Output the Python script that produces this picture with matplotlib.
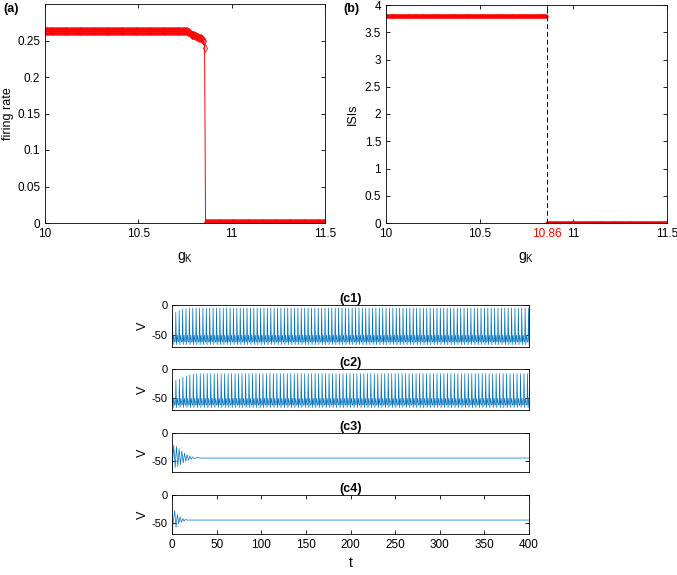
#!/usr/bin/env python3
"""
Firing rate / ISI vs g_K and sample voltage traces
"""

import numpy as np
import matplotlib.pyplot as plt
from matplotlib.ticker import FormatStrFormatter

plt.rcParams['font.family'] = ['Liberation Sans', 'DejaVu Sans']
plt.rcParams['font.size'] = 8.5
plt.rcParams['xtick.direction'] = 'in'
plt.rcParams['ytick.direction'] = 'in'
plt.rcParams['axes.linewidth'] = 0.6
plt.rcParams['xtick.major.width'] = 0.6
plt.rcParams['ytick.major.width'] = 0.6
plt.rcParams['xtick.major.size'] = 3
plt.rcParams['ytick.major.size'] = 3

# ---- data ----
gk_step = 0.005
gk_start, gk_end = 10.0, 11.5

# (a) firing rate: plateau, transition near 10.76-10.86, then silent
rate_plateau = 0.263
rate_plateau_end = 10.76
rate_transition = [0.262, 0.261, 0.260, 0.259, 0.258, 0.258, 0.257, 0.257,
                   0.256, 0.256, 0.255, 0.255, 0.254, 0.253, 0.253, 0.252,
                   0.251, 0.250, 0.240]
rate_silent = 0.0

# (b) ISIs
isi_spiking = 3.8
isi_silent = 0.0
gk_critical = 10.86

# (c) voltage traces
t_end = 400
cycle_phase = [0.0, 0.12, 0.3, 0.55, 0.8]
cycle_v = [-60, None, -66, -50, -62]   # None -> spike peak

c1_period = 3.8
c1_first_peaks = [-15, -12, -9, -7, -6]
c1_peak = -5

c2_period = 3.9
c2_first_peaks = [-20, -19, -17, -14, -12, -10, -9]
c2_peak = -8

c3_t = [0, 2, 3.5, 5, 6.5, 8, 9.5, 11, 12.5, 14, 15.5, 17, 18.5, 20, 21.5,
        23, 25, 28, 32, 400]
c3_v = [-68, -22, -62, -24, -60, -28, -57, -32, -54, -36, -51, -39, -49, -41,
        -47, -43, -46, -44, -45, -45]

c4_t = [0, 3, 4.5, 6, 7.5, 9, 10.5, 12, 13.5, 15, 17, 400]
c4_v = [-68, -28, -58, -35, -52, -39, -49, -42, -47, -44, -45, -45]

matlab_blue = '#0072BD'


def spike_train(first_peaks, steady_peak, period):
    n = int(t_end / period) + 2
    peaks = list(first_peaks) + [steady_peak] * (n - len(first_peaks))
    t, v = [], []
    for i, p in enumerate(peaks):
        for ph, val in zip(cycle_phase, cycle_v):
            t.append((i + ph) * period)
            v.append(p if val is None else val)
    return np.array(t), np.array(v)


def main():
    gk = np.round(np.arange(gk_start, gk_end + gk_step / 2, gk_step), 3)
    n_plateau = np.sum(gk <= rate_plateau_end + 1e-9)
    n_silent = len(gk) - n_plateau - len(rate_transition)
    rate = np.r_[np.repeat(rate_plateau, n_plateau), rate_transition,
                 np.repeat(rate_silent, n_silent)]

    isi = np.where(gk < gk_critical, isi_spiking, isi_silent)

    fig = plt.figure(figsize=(6.77, 5.75), dpi=100)
    W, H = 677, 575

    def box(l, t, r, b):
        return [l / W, 1 - b / H, (r - l) / W, (b - t) / H]

    # (a)
    ax1 = fig.add_axes(box(45, 4, 325, 223))
    ax1.plot(gk, rate, '-', color='red', lw=0.7, marker='d', ms=3.8,
             mfc='none', mew=0.6)
    ax1.set_xlim(10, 11.5)
    ax1.set_ylim(0, 0.3)
    ax1.set_xticks([10, 10.5, 11, 11.5])
    ax1.set_yticks([0, 0.05, 0.1, 0.15, 0.2, 0.25])
    ax1.xaxis.set_major_formatter(FormatStrFormatter('%g'))
    ax1.yaxis.set_major_formatter(FormatStrFormatter('%g'))
    ax1.set_xlabel('g$_\\mathregular{K}$', fontsize=10)
    ax1.set_ylabel('firing rate', fontsize=9)
    ax1.yaxis.set_label_coords(-31 / 280, 0.5)
    ax1.xaxis.set_label_coords(0.5, -27 / 219)
    ax1.tick_params(top=True, right=True)
    fig.text(3 / W, 1 - 9 / H, '(a)', fontweight='bold', fontsize=9,
             va='center')

    # (b)
    ax2 = fig.add_axes(box(386, 5, 667, 223))
    ax2.plot(gk, isi, linestyle='none', marker='.', color='red', ms=4)
    ax2.axvline(gk_critical, color='black', ls=(0, (5, 3)), lw=0.7)
    ax2.set_xlim(10, 11.5)
    ax2.set_ylim(0, 4)
    ax2.set_xticks([10, 10.5, gk_critical, 11, 11.5])
    ax2.set_yticks(np.arange(0, 4.01, 0.5))
    ax2.xaxis.set_major_formatter(FormatStrFormatter('%g'))
    ax2.yaxis.set_major_formatter(FormatStrFormatter('%g'))
    ax2.get_xticklabels()[2].set_color('red')
    ax2.set_xlabel('g$_\\mathregular{K}$', fontsize=10)
    ax2.xaxis.set_label_coords(0.5, -27 / 218)
    ax2.set_ylabel('ISIs', fontsize=9)
    ax2.yaxis.set_label_coords(-27 / 281, 0.5)
    ax2.tick_params(top=True, right=True)
    fig.text(343 / W, 1 - 9 / H, '(b)', fontweight='bold', fontsize=9,
             va='center')

    # (c1)-(c4)
    t1, v1 = spike_train(c1_first_peaks, c1_peak, c1_period)
    t2, v2 = spike_train(c2_first_peaks, c2_peak, c2_period)
    traces = [(t1, v1, '(c1)'), (t2, v2, '(c2)'),
              (np.array(c3_t), np.array(c3_v), '(c3)'),
              (np.array(c4_t), np.array(c4_v), '(c4)')]
    rows = [(305, 347), (369, 410), (433, 472), (495, 534)]
    for k, ((t, v, title), (top, bot)) in enumerate(zip(traces, rows)):
        ax = fig.add_axes(box(172, top, 529, bot))
        ax.plot(t, v, color=matlab_blue, lw=0.5)
        ax.set_xlim(0, 400)
        ax.set_ylim(-70, 0)
        ax.set_yticks([-50, 0])
        ax.yaxis.set_major_formatter(FormatStrFormatter('%g'))
        ax.tick_params(axis='y', labelsize=8, pad=3)
        ax.set_ylabel('V', fontsize=9)
        ax.yaxis.set_label_coords(-23 / 357, 0.5)
        ax.set_title(title, fontweight='bold', fontsize=9, pad=2)
        ax.tick_params(right=True, top=True)
        if k < 3:
            ax.set_xticks([])
        else:
            ax.set_xticks(np.arange(0, 401, 50))
            ax.set_xlabel('t', fontsize=10)

    plt.savefig('out.png', dpi=100)


if __name__ == "__main__":
    main()
